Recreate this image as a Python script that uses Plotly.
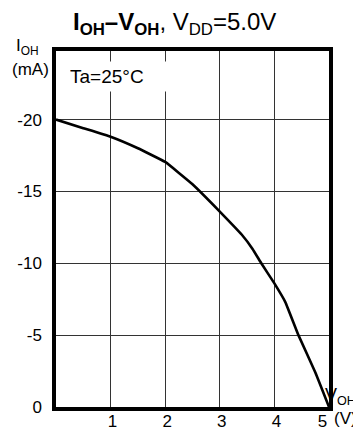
import plotly.graph_objects as go

# Data (V_OH in V, I_OH in mA)
voh = [0.0, 0.5, 1.0, 1.5, 2.0, 2.5, 3.0, 3.4, 3.6, 3.76, 4.0, 4.2, 4.44, 4.75, 5.0]
ioh = [-20.0, -19.4, -18.8, -18.0, -17.05, -15.5, -13.6, -12.0, -11.0, -10.0, -8.6, -7.3, -5.0, -2.4, 0.0]

x_ticks = [1, 2, 3, 4, 5]
x_ticklabels = ["1", "2", "3", "4", "5\u2003"]
y_ticks = [0, -5, -10, -15, -20]
y_ticklabels = ["0", "-5", "-10", "-15", "-20"]

TITLE = "<b>I<sub>OH</sub>–V<sub>OH</sub></b>, V<sub>DD</sub>=5.0V"

FONT = "Arial, Liberation Sans, Helvetica, sans-serif"

# The page body adds an 8px offset, so the figure is sized to fit the window
OFF = 8
W, H = 361 - OFF, 432 - OFF
L, T = 56 - OFF, 51 - OFF
R, B = 32, 25


def px_x(p):
    """viewport pixel x -> paper x"""
    return (p - OFF - L) / (W - L - R)


def px_y(p):
    """viewport pixel y -> paper y"""
    return (H - B - (p - OFF)) / (H - T - B)


fig = go.Figure()
fig.add_trace(go.Scatter(
    x=voh, y=ioh, mode="lines",
    line=dict(color="black", width=2.6, shape="spline", smoothing=0.25),
    hoverinfo="skip", showlegend=False,
))

fig.update_layout(
    template="none",
    width=W, height=H,
    margin=dict(l=L, r=R, t=T, b=B, autoexpand=False),
    paper_bgcolor="white", plot_bgcolor="white",
    font=dict(family=FONT, size=17, color="black"),
    showlegend=False,
)

# Title (placed as a paper annotation, centred where the reference title is)
fig.add_annotation(text=TITLE, xref="paper", yref="paper",
                   x=px_x(174), y=px_y(23), xanchor="center", yanchor="middle",
                   showarrow=False, font=dict(family=FONT, size=24))

fig.update_xaxes(
    range=[0, 5], tickvals=x_ticks, ticktext=x_ticklabels,
    showgrid=True, gridcolor="#333", gridwidth=1,
    showline=True, linecolor="black", linewidth=3.5, mirror=True,
    ticks="", zeroline=False, ticklabelstandoff=-4, ticklabelshift=2,
    automargin=False,
    tickfont=dict(family=FONT, size=17),
)
fig.update_yaxes(
    range=[0, -24.77], tickvals=y_ticks, ticktext=y_ticklabels,
    showgrid=True, gridcolor="#333", gridwidth=1,
    showline=True, linecolor="black", linewidth=3.5, mirror=True,
    ticks="", zeroline=False, ticklabelstandoff=7, automargin=False,
    tickfont=dict(family=FONT, size=17),
)

# Axis labels
fig.add_annotation(text="I<sub>OH</sub>", xref="paper", yref="paper",
                   x=px_x(27), y=px_y(47), xanchor="center", yanchor="middle",
                   showarrow=False, font=dict(family=FONT, size=17))
fig.add_annotation(text="(mA)", xref="paper", yref="paper",
                   x=px_x(30), y=px_y(70), xanchor="center", yanchor="middle",
                   showarrow=False, font=dict(family=FONT, size=17))
fig.add_annotation(text="V<sub>OH</sub>", xref="paper", yref="paper",
                   x=px_x(323), y=px_y(396), xanchor="left", yanchor="middle",
                   showarrow=False, font=dict(family=FONT, size=18))
fig.add_annotation(text="(V)", xref="paper", yref="paper",
                   x=px_x(332), y=px_y(418), xanchor="left", yanchor="middle",
                   showarrow=False, font=dict(family=FONT, size=17))

# Condition label with white background
fig.add_annotation(text="Ta=25°C", xref="paper", yref="paper",
                   x=px_x(67), y=px_y(77), xanchor="left", yanchor="middle",
                   showarrow=False, font=dict(family=FONT, size=19),
                   bgcolor="white", width=98, height=25, align="left", borderpad=2)

fig.write_html("out.html")
